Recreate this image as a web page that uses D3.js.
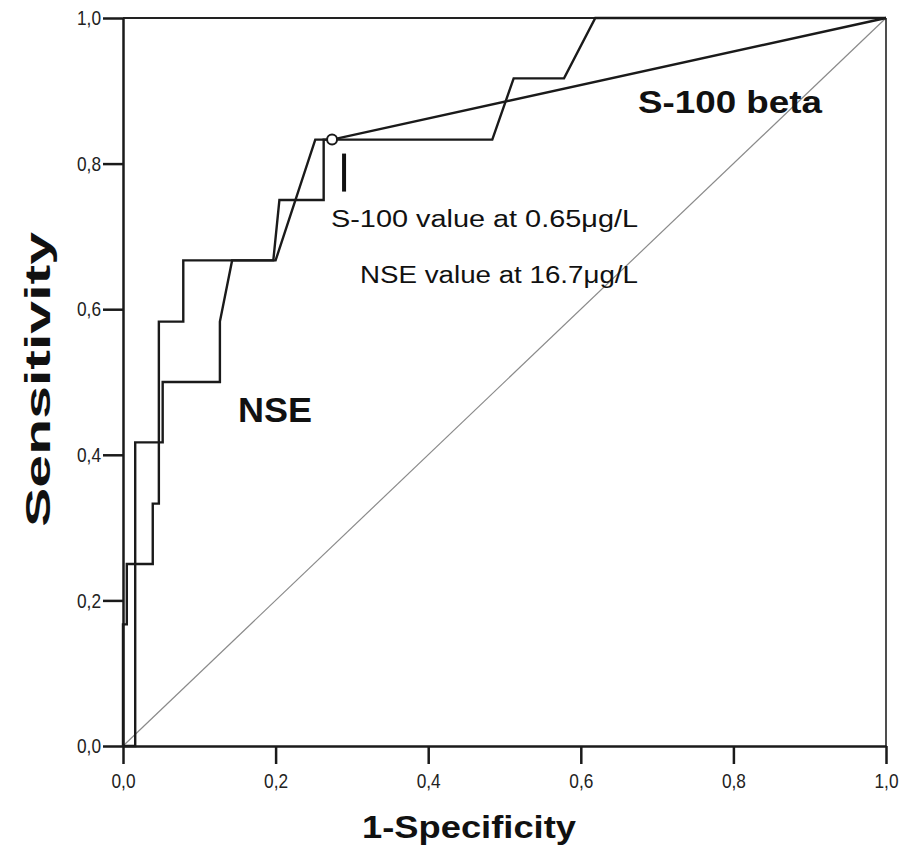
<!DOCTYPE html>
<html>
<head>
<meta charset="utf-8">
<script src="https://cdn.jsdelivr.net/npm/d3@7"></script>
<style>
body { margin: 0; background: #fff; }
text { font-family: "Liberation Sans", Arial, sans-serif; fill: #111; }
</style>
</head>
<body>
<script>
// ROC curves: 1-specificity (x) and sensitivity (y)
var nseFpr  = [0, 0, 0.005, 0.005, 0.039, 0.039, 0.047, 0.047, 0.079, 0.079, 0.197, 0.205, 0.263, 0.263, 0.484, 0.512, 0.578, 0.619, 1];
var nseTpr  = [0, 0.167, 0.167, 0.25, 0.25, 0.333, 0.333, 0.583, 0.583, 0.667, 0.667, 0.75, 0.75, 0.833, 0.833, 0.917, 0.917, 1, 1];
var s100Fpr = [0, 0.016, 0.016, 0.052, 0.052, 0.127, 0.127, 0.143, 0.2, 0.252, 0.274, 1];
var s100Tpr = [0, 0, 0.417, 0.417, 0.5, 0.5, 0.583, 0.667, 0.667, 0.833, 0.833, 1];
var refLine = [0, 1];
var cutoffPoint = [0.274, 0.833];
var tickValues = [0, 0.2, 0.4, 0.6, 0.8, 1];

var width = 913, height = 846;
var margin = {top: 18, right: 27, bottom: 100, left: 123};

var svg = d3.select("body").append("svg")
    .attr("width", width)
    .attr("height", height);

//Scales
var xScale = d3.scaleLinear().domain([0, 1]).range([margin.left, width - margin.right]);
var yScale = d3.scaleLinear().domain([0, 1]).range([height - margin.bottom, margin.top]);

var commaFmt = function(d) { return d3.format(".1f")(d).replace(".", ","); };

//Reference diagonal
svg.append("line")
    .attr("x1", xScale(refLine[0])).attr("y1", yScale(refLine[0]))
    .attr("x2", xScale(refLine[1])).attr("y2", yScale(refLine[1]))
    .style("stroke", "#8a8a8a")
    .style("stroke-width", 1.2);

//Frame: top and right
svg.append("line")
    .attr("x1", xScale(0)).attr("y1", yScale(1))
    .attr("x2", xScale(1)).attr("y2", yScale(1))
    .style("stroke", "#222").style("stroke-width", 2);
svg.append("line")
    .attr("x1", xScale(1)).attr("y1", yScale(1))
    .attr("x2", xScale(1)).attr("y2", yScale(0))
    .style("stroke", "#222").style("stroke-width", 1.6);

//Axes
var xAxis = d3.axisBottom(xScale).tickValues(tickValues).tickFormat(commaFmt)
    .tickSize(18).tickSizeOuter(0).tickPadding(9);
var yAxis = d3.axisLeft(yScale).tickValues(tickValues).tickFormat(commaFmt)
    .tickSize(20).tickSizeOuter(0).tickPadding(2);

var gx = svg.append("g")
    .attr("transform", "translate(0," + yScale(0) + ")")
    .call(xAxis);
var gy = svg.append("g")
    .attr("transform", "translate(" + xScale(0) + ",0)")
    .call(yAxis);

[gx, gy].forEach(function(g) {
    g.attr("font-size", 21);
    g.selectAll("path, line").attr("stroke", "#1a1a1a").attr("stroke-width", 2.5);
    g.selectAll("text")
        .attr("font-family", "'Liberation Sans Narrow', 'Liberation Sans', Arial, sans-serif")
        .style("font-size", "21px")
        .attr("textLength", 24)
        .attr("lengthAdjust", "spacingAndGlyphs")
        .style("fill", "#222");
});

//ROC curves
var line = d3.line()
    .x(function(d) { return xScale(d[0]); })
    .y(function(d) { return yScale(d[1]); });

var curves = [
    {id: "NSE", pts: d3.zip(nseFpr, nseTpr)},
    {id: "S-100 beta", pts: d3.zip(s100Fpr, s100Tpr)}
];

svg.append("g").selectAll("path")
    .data(curves)
    .enter()
    .append("path")
    .attr("d", function(d) { return line(d.pts); })
    .style("fill", "none")
    .style("stroke", "#1a1a1a")
    .style("stroke-width", 2.4)
    .style("stroke-linejoin", "miter");

//Cut-off marker
svg.append("circle")
    .attr("cx", xScale(cutoffPoint[0]))
    .attr("cy", yScale(cutoffPoint[1]))
    .attr("r", 5)
    .style("fill", "#fff")
    .style("stroke", "#1a1a1a")
    .style("stroke-width", 2);

svg.append("line")
    .attr("x1", xScale(cutoffPoint[0]) + 12).attr("y1", yScale(cutoffPoint[1]) + 14)
    .attr("x2", xScale(cutoffPoint[0]) + 12).attr("y2", yScale(cutoffPoint[1]) + 52)
    .style("stroke", "#111")
    .style("stroke-width", 4);

//Annotations
function label(txt, x, y, size, weight, len) {
    return svg.append("text")
        .attr("x", x).attr("y", y)
        .attr("textLength", len)
        .attr("lengthAdjust", "spacingAndGlyphs")
        .style("font-size", size + "px")
        .style("font-weight", weight)
        .text(txt);
}

label("S-100 value at 0.65μg/L", 331, 227, 23, "normal", 307);
label("NSE value at 16.7μg/L", 360, 283, 23, "normal", 278);
label("S-100 beta", 638, 113, 32, "bold", 184);
label("NSE", 238, 422, 35, "bold", 74);

//Axis titles
label("1-Specificity", 362, 838, 32, "bold", 214);

svg.append("text")
    .attr("transform", "translate(50,380) rotate(-90)")
    .attr("x", -147)
    .attr("textLength", 295)
    .attr("lengthAdjust", "spacingAndGlyphs")
    .style("font-size", "35px")
    .style("font-weight", "bold")
    .text("Sensitivity");
</script>
</body>
</html>
